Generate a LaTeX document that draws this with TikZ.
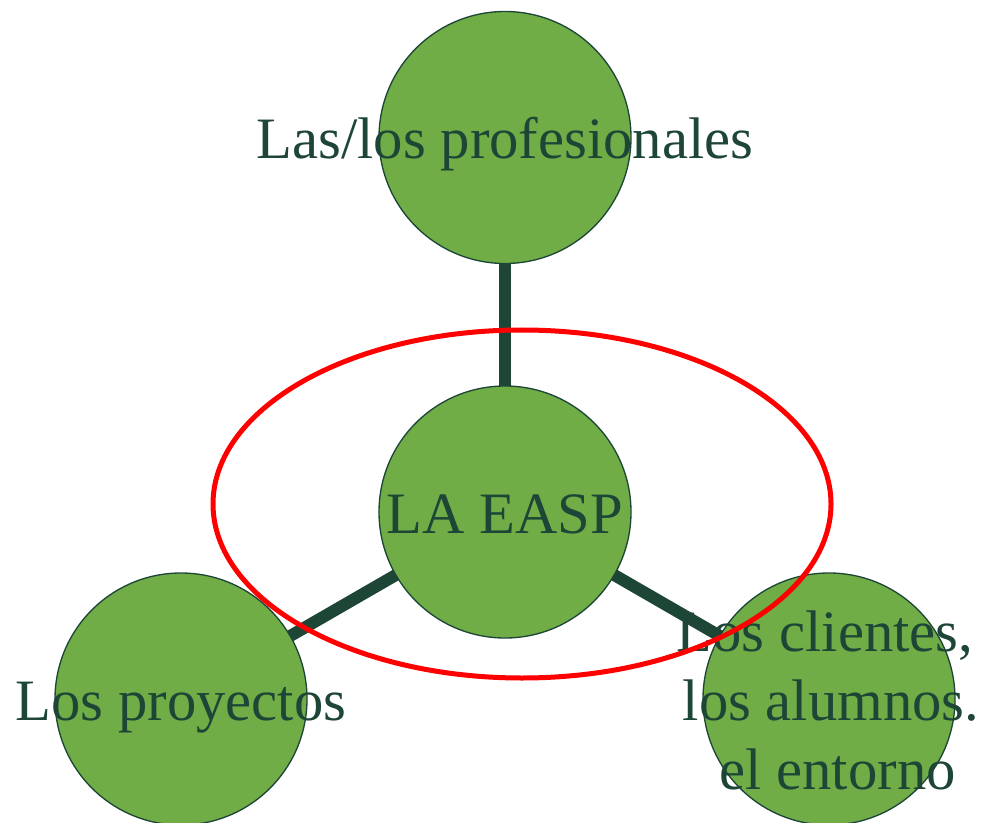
\documentclass[tikz,border=0pt]{standalone}
\usepackage{fontspec}
\setmainfont{Liberation Serif}
\usetikzlibrary{backgrounds}
\definecolor{leafgreen}{RGB}{112,173,71}
\definecolor{darkgreen}{RGB}{30,70,55}
\newcommand{\lstrut}{\rule[-0.2em]{0pt}{1.14em}}

\begin{document}
\begin{tikzpicture}[x=0.75pt,y=-0.75pt,main node/.style={circle,draw=darkgreen,line width=1pt,fill=leafgreen,minimum size=189pt,inner sep=0pt},label node/.style={inner sep=0pt,align=center,text=darkgreen,font=\fontsize{44}{51.75}\selectfont},link/.style={draw=darkgreen,line width=9pt}]
                \useasboundingbox (0,0) rectangle (981,823);
                \node[main node] (1) at (505,512) {};
                \node[main node] (2) at (505,137.5) {};
                \node[main node] (3) at (181,699) {};
                \node[main node] (4) at (829,699) {};

                \begin{pgfonlayer}{background}
                \path
                    (1.center) edge[link] (2.center)
                    (1.center) edge[link] (3.center)
                    (1.center) edge[link] (4.center)
                    ;
                \end{pgfonlayer}

                \node[label node] (t1) at (1) {\lstrut LA EASP};
                \node[label node] (t2) at (2) {\lstrut Las/los profesionales};
                \node[label node] (t3) at (3) {\lstrut Los proyectos};
                \node[label node] (t4) at (4) {\lstrut Los clientes,\hspace*{6pt}\\\hspace*{3pt}\lstrut los alumnos.\\\hspace*{13pt}\lstrut el entorno};

                \draw[red,line width=3.75pt] (522,504) ellipse [x radius=231.75pt,y radius=130.5pt];
            \end{tikzpicture}
\end{document}
